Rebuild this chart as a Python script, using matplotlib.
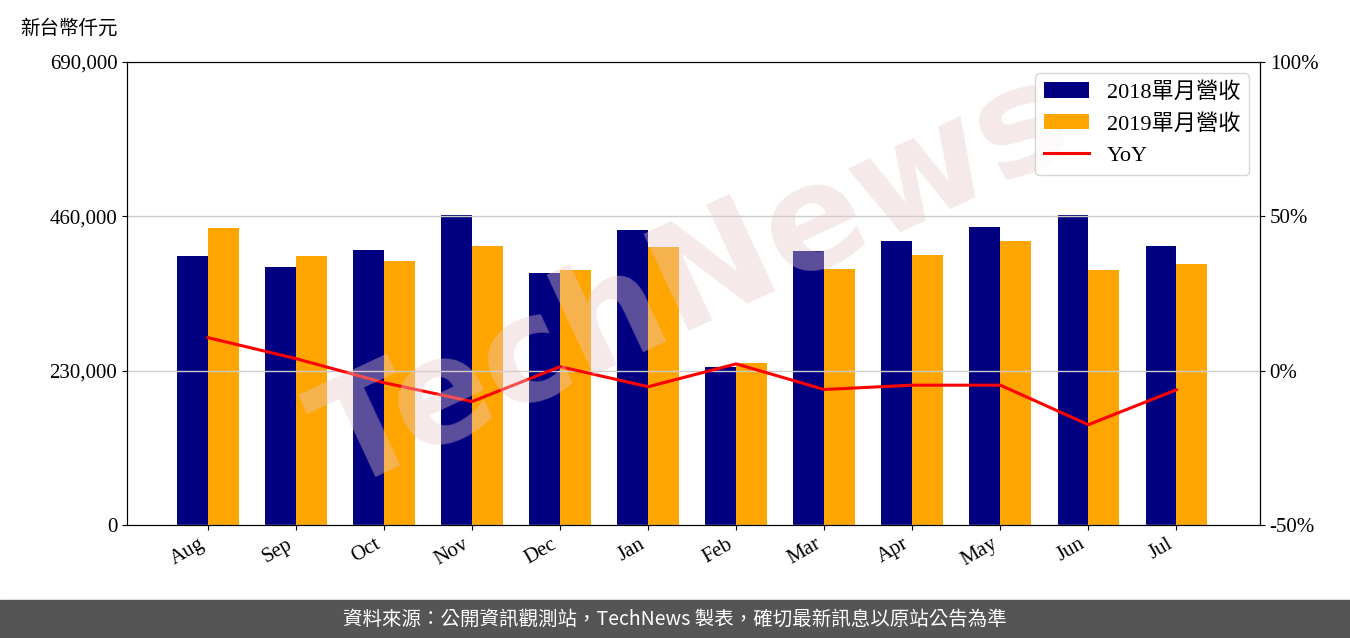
import matplotlib
matplotlib.use("Agg")
import matplotlib.pyplot as plt
import numpy as np

months = ["Aug","Sep","Oct","Nov","Dec","Jan","Feb","Mar","Apr","May","Jun","Jul"]
rev2018 = [400900,384500,409800,462000,375600,439600,235500,408300,423200,444100,462000,415800]
rev2019 = [442600,400900,393400,415800,380000,414300,241400,381500,402400,423200,380000,389000]
yoy = [10.7,3.9,-3.9,-10.0,1.3,-5.2,2.2,-6.1,-4.7,-4.7,-17.5,-6.2]

plt.rcParams['font.family'] = ['Liberation Serif', 'Noto Sans CJK TC', 'DejaVu Sans']
fig = plt.figure(figsize=(13.5, 6.38), dpi=100)
ax = fig.add_axes([127/1350, 1-525/638, (1260-127)/1350, (525-62)/638])
x = np.arange(len(months))
w = 0.35
ax.bar(x - w/2, rev2018, w, color='#000080', label='2018單月營收', zorder=2)
ax.bar(x + w/2, rev2019, w, color='#FFA500', label='2019單月營收', zorder=2)
ax.set_ylim(0, 690000)
ax.set_yticks([0, 230000, 460000, 690000])
ax.set_yticklabels([f"{v:,}" for v in [0, 230000, 460000, 690000]], fontsize=15)
ax.set_xlim(-0.92, 11.95)
ax.set_xticks(x)
ax.set_xticklabels(months, rotation=30, ha='right', fontsize=15)
ax2 = ax.twinx()
ax2.plot(x, yoy, color='red', lw=2.2, label='YoY', zorder=3)
ax2.set_ylim(-50, 100)
ax2.set_yticks([-50, 0, 50, 100])
ax2.set_yticklabels(['-50%', '0%', '50%', '100%'], fontsize=15)
ax2.grid(axis='y', color='#cccccc', lw=1)
ax2.set_axisbelow(True)
h1, l1 = ax.get_legend_handles_labels()
h2, l2 = ax2.get_legend_handles_labels()
ax2.legend(h1 + h2, l1 + l2, loc='upper right', prop={'family': ['Liberation Serif', 'Noto Sans CJK TC'], 'size': 16})
ax2.text(0.5, 0.52, 'TechNews', transform=ax2.transAxes, fontsize=105, rotation=25, color='#e8c8c8', alpha=0.4,
         ha='center', va='center', family='DejaVu Sans', fontweight='bold', zorder=4)
fig.text(20/1350, 1-28/638, '新台幣仟元', fontsize=14, family=['Noto Sans CJK TC'], va='center')
fig.patches.append(plt.Rectangle((0, 0), 1, 38/638, transform=fig.transFigure, color='#555555', zorder=0))
fig.text(0.5, 19/638, '資料來源：公開資訊觀測站，TechNews 製表，確切最新訊息以原站公告為準', color='white',
         fontsize=14, ha='center', va='center', family=['Noto Sans CJK TC', 'DejaVu Sans'])
fig.savefig('out.png', dpi=100)
